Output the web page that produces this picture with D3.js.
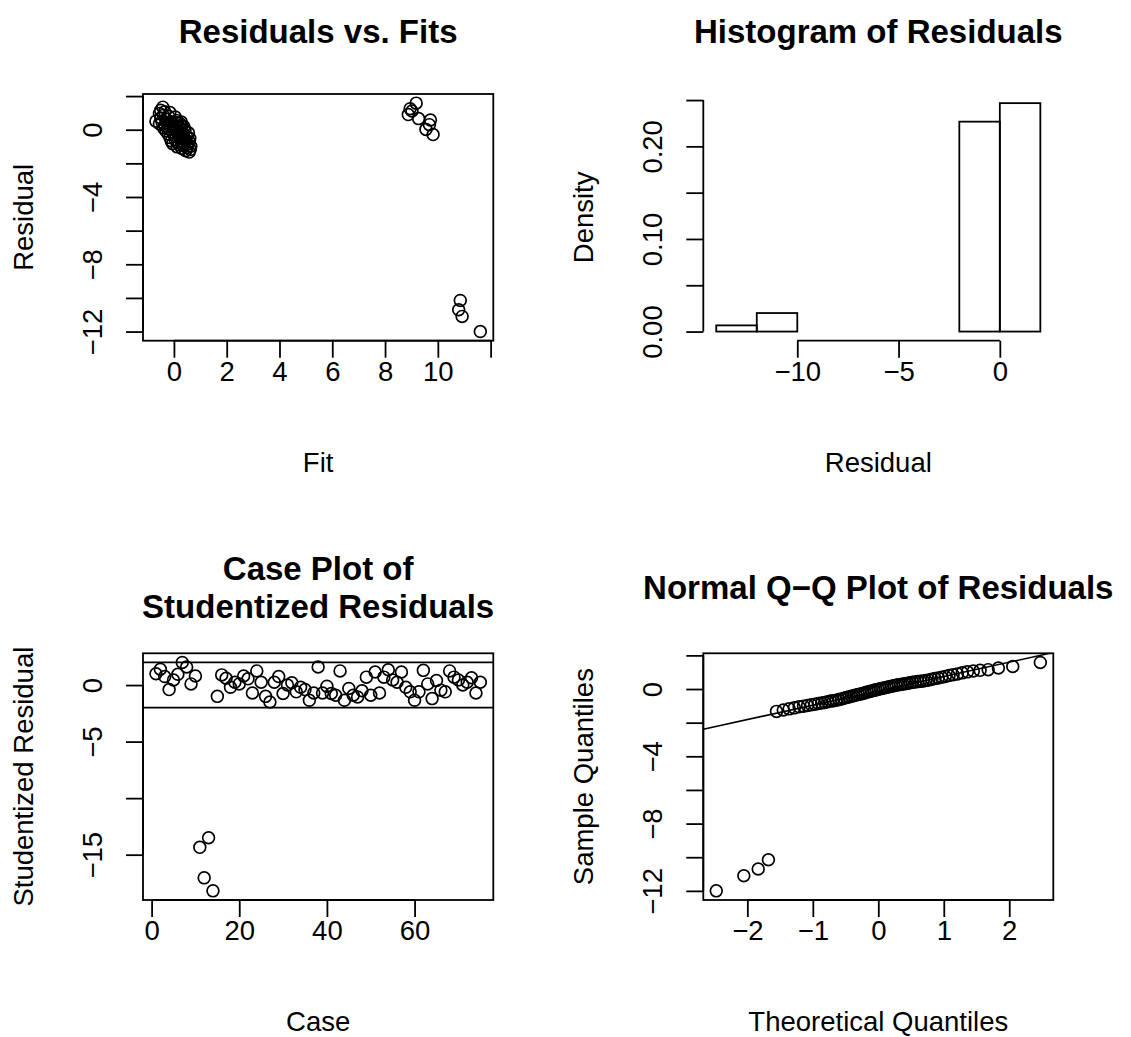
<!DOCTYPE html>
<html>
<head>
<meta charset="utf-8">
<script src="https://cdn.jsdelivr.net/npm/d3@7"></script>
<style>
  body { margin: 0; background: #fff; }
  svg { display: block; font-family: 'Liberation Sans', Arial, Helvetica, sans-serif; }
</style>
</head>
<body>
<div id="chart"></div>
<script>
// fitted values and raw residuals (same observation order)
const fitted = [
  0.58, 0.45, 0.62, 0.30, 0.50, 0.12, 0.64, 0.35, 0.20, 0.52,
  -0.05, 0.40, 0.15, 0.58, 0.28, -0.10, 0.45, 0.05, 0.33, 0.60,
  -0.15, 0.22, 0.48, 0.02, 0.36, -0.22, 0.15, 0.55, -0.05, 0.30,
  -0.30, 0.10, 0.42,
  -0.20, 0.25, -0.40, 0.05, 0.38, -0.12, 0.18, -0.35, 0.30, -0.05,
  -0.55, 0.22, -0.25, 0.10, -0.45, 0.28, -0.10, -0.68, 0.12, -0.30,
  -0.50, 0.05, -0.20, -0.40, -0.55, -0.15, -0.35, -0.50, -0.42,
  9.18, 8.95, 9.02, 8.88, 9.27, 9.72, 9.68, 9.55, 9.82,
  10.85, 10.79, 10.92, 11.61,
];
const residuals = [
  -1.33, -1.25, -1.18, -1.12, -1.06, -1.02, -0.98, -0.94, -0.90, -0.86,
  -0.83, -0.80, -0.76, -0.72, -0.70, -0.67, -0.63, -0.59, -0.55, -0.51,
  -0.47, -0.43, -0.40, -0.36, -0.33, -0.26, -0.22, -0.18, -0.15, -0.12,
  -0.08, -0.05, -0.02,
  0.05, 0.08, 0.11, 0.14, 0.17, 0.19, 0.22, 0.25, 0.27, 0.32,
  0.35, 0.37, 0.40, 0.42, 0.44, 0.455, 0.475, 0.51, 0.54, 0.62,
  0.70, 0.75, 0.80, 0.85, 0.96, 1.02, 1.07, 1.15, 1.34,
  1.58, 1.25, 1.11, 0.90, 0.66, 0.58, 0.30, 0.02, -0.29,
  -10.15, -10.7, -11.1, -12.0,
];
// studentized residuals by case number 1..75
const studentized = [
  1.0, 1.4, 0.75, -0.4, 0.45, 0.95, 2.0, 1.6, 0.1, 0.8,
  -14.35, -17.05, -13.5, -18.2, -1.0, 0.9, 0.6, -0.2, 0.25, 0.1,
  0.8, 0.55, -0.7, 1.25, 0.25, -1.0, -1.5, 0.25, 0.75, -0.75,
  0.0, 0.2, -0.6, -0.2, -0.4, -1.35, -0.7, 1.6, -0.7, -0.1,
  -0.75, -0.9, 1.25, -1.35, -0.3, -0.9, -1.05, -0.5, 0.7, -0.9,
  1.15, -0.7, 0.7, 1.35, 0.45, 0.25, 1.15, -0.2, -0.6, -1.35,
  -0.6, 1.3, 0.1, -1.2, 0.4, -0.45, -0.6, 1.25, 0.7, 0.45,
  0.0, 0.25, 0.65, -0.7, 0.25,
];
const studLimits = [-2, 2];
const histBreaks = [-14, -12, -10, -8, -6, -4, -2, 0, 2];

// ticks and their labels ('' = tick without label)
const fitTicks = [0, 2, 4, 6, 8, 10, 12];
const fitLabels = ['0', '2', '4', '6', '8', '10', ''];
const residTicks = [2, 0, -2, -4, -6, -8, -10, -12];
const residLabels = ['', '0', '', '−4', '', '−8', '', '−12'];
const histTicks = [-10, -5, 0];
const histLabels = ['−10', '−5', '0'];
const densTicks = [0, 0.05, 0.10, 0.15, 0.20, 0.25];
const densLabels = ['0.00', '', '0.10', '', '0.20', ''];
const caseTicks = [0, 20, 40, 60];
const caseLabels = ['0', '20', '40', '60'];
const studTicks = [0, -5, -10, -15];
const studLabels = ['0', '−5', '', '−15'];
const qqTicks = [-2, -1, 0, 1, 2];
const qqLabels = ['−2', '−1', '0', '1', '2'];

const W = 1131;
const H = 1037;
const FS = 27.5;
const LW = 1.8;
const TICK = 17;
const COLS = [[143, 493.3], [703.3, 1053.3]];
const ROWS = [[94, 340.7], [653.3, 900]];

const panel = (c, r) => ({ left: COLS[c][0], right: COLS[c][1], top: ROWS[r][0], bottom: ROWS[r][1] });
const pad = ([a, b]) => [a - 0.04 * (b - a), b + 0.04 * (b - a)];

const qnorm = (p) => {
  const a = [-39.69683028665376, 220.9460984245205, -275.9285104469687, 138.357751867269, -30.66479806614716, 2.506628277459239];
  const b = [-54.47609879822406, 161.5858368580409, -155.6989798598866, 66.80131188771972, -13.28068155288572];
  const c = [-0.007784894002430293, -0.3223964580411365, -2.400758277161838, -2.549732539343734, 4.374664141464968, 2.938163982698783];
  const d = [0.007784695709041462, 0.3224671290700398, 2.445134137142996, 3.754408661907416];
  const tail = (q) => (((((c[0] * q + c[1]) * q + c[2]) * q + c[3]) * q + c[4]) * q + c[5]) /
    ((((d[0] * q + d[1]) * q + d[2]) * q + d[3]) * q + 1);
  if (p < 0.02425) return tail(Math.sqrt(-2 * Math.log(p)));
  if (p > 1 - 0.02425) return -tail(Math.sqrt(-2 * Math.log(1 - p)));
  const q = p - 0.5;
  const r = q * q;
  return (((((a[0] * r + a[1]) * r + a[2]) * r + a[3]) * r + a[4]) * r + a[5]) * q /
    (((((b[0] * r + b[1]) * r + b[2]) * r + b[3]) * r + b[4]) * r + 1);
};

const svg = d3.select('#chart').append('svg').attr('width', W).attr('height', H);
svg.append('rect').attr('width', W).attr('height', H).attr('fill', '#fff');

const box = (p) => {
  svg.append('rect')
    .attr('x', p.left).attr('y', p.top)
    .attr('width', p.right - p.left).attr('height', p.bottom - p.top)
    .attr('fill', 'none').attr('stroke', '#000').attr('stroke-width', LW);
};

const axisX = (p, scale, ticks, labels) => {
  const g = svg.append('g')
    .attr('transform', `translate(0, ${p.bottom})`)
    .call(d3.axisBottom(scale).tickValues(ticks).tickSize(TICK).tickSizeOuter(0)
      .tickFormat((d, i) => labels[i]));
  g.select('.domain').remove();
  g.append('line')
    .attr('x1', scale(ticks[0])).attr('x2', scale(ticks[ticks.length - 1]));
  g.selectAll('line').attr('stroke', '#000').attr('stroke-width', LW);
  g.selectAll('text')
    .attr('y', 40).attr('dy', null)
    .attr('font-size', FS).attr('font-family', 'inherit').attr('fill', '#000');
};

const axisY = (p, scale, ticks, labels) => {
  const g = svg.append('g')
    .attr('transform', `translate(${p.left}, 0)`)
    .call(d3.axisLeft(scale).tickValues(ticks).tickSize(TICK).tickSizeOuter(0)
      .tickFormat((d, i) => labels[i]));
  g.select('.domain').remove();
  g.append('line')
    .attr('y1', scale(ticks[0])).attr('y2', scale(ticks[ticks.length - 1]));
  g.selectAll('line').attr('stroke', '#000').attr('stroke-width', LW);
  g.selectAll('text')
    .attr('x', null).attr('dy', null)
    .attr('text-anchor', 'middle')
    .attr('transform', 'translate(-41, 0) rotate(-90)')
    .attr('font-size', FS).attr('font-family', 'inherit').attr('fill', '#000');
};

const titles = (p, main, mainY, xlab, ylab) => {
  const cx = (p.left + p.right) / 2;
  const cy = (p.top + p.bottom) / 2;
  main.forEach((line, i) => {
    svg.append('text')
      .attr('x', cx).attr('y', mainY[i])
      .attr('text-anchor', 'middle')
      .attr('font-size', FS * 1.2).attr('font-weight', 'bold')
      .text(line);
  });
  svg.append('text')
    .attr('x', cx).attr('y', p.bottom + 131)
    .attr('text-anchor', 'middle').attr('font-size', FS)
    .text(xlab);
  svg.append('text')
    .attr('transform', `translate(${p.left - 110}, ${cy}) rotate(-90)`)
    .attr('text-anchor', 'middle').attr('font-size', FS)
    .text(ylab);
};

const circles = (pts, x, y) => {
  svg.append('g')
    .selectAll('circle')
    .data(pts)
    .join('circle')
    .attr('cx', (d) => x(d[0]))
    .attr('cy', (d) => y(d[1]))
    .attr('r', 5.9)
    .attr('fill', 'none')
    .attr('stroke', '#000')
    .attr('stroke-width', 1.7);
};

const clipFor = (id, p) => {
  svg.append('clipPath').attr('id', id)
    .append('rect')
    .attr('x', p.left).attr('y', p.top)
    .attr('width', p.right - p.left).attr('height', p.bottom - p.top);
  return `url(#${id})`;
};

// 1. Residuals vs. Fits
{
  const p = panel(0, 0);
  const x = d3.scaleLinear().domain(pad(d3.extent(fitted))).range([p.left, p.right]);
  const y = d3.scaleLinear().domain(pad(d3.extent(residuals))).range([p.bottom, p.top]);
  circles(d3.zip(fitted, residuals), x, y);
  box(p);
  axisX(p, x, fitTicks, fitLabels);
  axisY(p, y, residTicks, residLabels);
  titles(p, ['Residuals vs. Fits'], [43], 'Fit', 'Residual');
}

// 2. Histogram of Residuals (right-closed bins, density scale)
{
  const p = panel(1, 0);
  const n = residuals.length;
  const bins = d3.pairs(histBreaks).map(([a, b], i) => {
    const count = residuals.filter((v) => (v > a || (i === 0 && v === a)) && v <= b).length;
    return { x0: a, x1: b, density: count / (n * (b - a)) };
  });
  const x = d3.scaleLinear().domain(pad(d3.extent(histBreaks))).range([p.left, p.right]);
  const y = d3.scaleLinear().domain(pad([0, d3.max(bins, (d) => d.density)])).range([p.bottom, p.top]);
  svg.append('g')
    .selectAll('rect')
    .data(bins)
    .join('rect')
    .attr('x', (d) => x(d.x0))
    .attr('width', (d) => x(d.x1) - x(d.x0))
    .attr('y', (d) => y(d.density))
    .attr('height', (d) => y(0) - y(d.density))
    .attr('fill', 'none')
    .attr('stroke', '#000')
    .attr('stroke-width', LW);
  axisX(p, x, histTicks, histLabels);
  axisY(p, y, densTicks, densLabels);
  titles(p, ['Histogram of Residuals'], [43], 'Residual', 'Density');
}

// 3. Case plot of studentized residuals
{
  const p = panel(0, 1);
  const cases = studentized.map((d, i) => i + 1);
  const x = d3.scaleLinear().domain(pad(d3.extent(cases))).range([p.left, p.right]);
  const y = d3.scaleLinear().domain(pad(d3.extent(studentized.concat(studLimits)))).range([p.bottom, p.top]);
  circles(d3.zip(cases, studentized), x, y);
  svg.append('g')
    .selectAll('line')
    .data(studLimits)
    .join('line')
    .attr('x1', p.left).attr('x2', p.right)
    .attr('y1', (d) => y(d)).attr('y2', (d) => y(d))
    .attr('stroke', '#000').attr('stroke-width', LW);
  box(p);
  axisX(p, x, caseTicks, caseLabels);
  axisY(p, y, studTicks, studLabels);
  titles(p, ['Case Plot of', 'Studentized Residuals'], [580, 618], 'Case', 'Studentized Residual');
}

// 4. Normal Q-Q plot of residuals
{
  const p = panel(1, 1);
  const sorted = residuals.slice().sort(d3.ascending);
  const n = sorted.length;
  const theo = sorted.map((d, i) => qnorm((i + 0.5) / n));
  const x = d3.scaleLinear().domain(pad(d3.extent(theo))).range([p.left, p.right]);
  const y = d3.scaleLinear().domain(pad(d3.extent(sorted))).range([p.bottom, p.top]);
  circles(d3.zip(theo, sorted), x, y);

  const q1 = d3.quantile(residuals, 0.25);
  const q3 = d3.quantile(residuals, 0.75);
  const z1 = qnorm(0.25);
  const z3 = qnorm(0.75);
  const slope = (q3 - q1) / (z3 - z1);
  const icpt = q1 - slope * z1;
  const [xa, xb] = x.domain();
  svg.append('line')
    .attr('clip-path', clipFor('qqclip', p))
    .attr('x1', x(xa)).attr('y1', y(icpt + slope * xa))
    .attr('x2', x(xb)).attr('y2', y(icpt + slope * xb))
    .attr('stroke', '#000').attr('stroke-width', 1.6);
  box(p);
  axisX(p, x, qqTicks, qqLabels);
  axisY(p, y, residTicks, residLabels);
  titles(p, ['Normal Q−Q Plot of Residuals'], [599], 'Theoretical Quantiles', 'Sample Quantiles');
}
</script>
</body>
</html>
